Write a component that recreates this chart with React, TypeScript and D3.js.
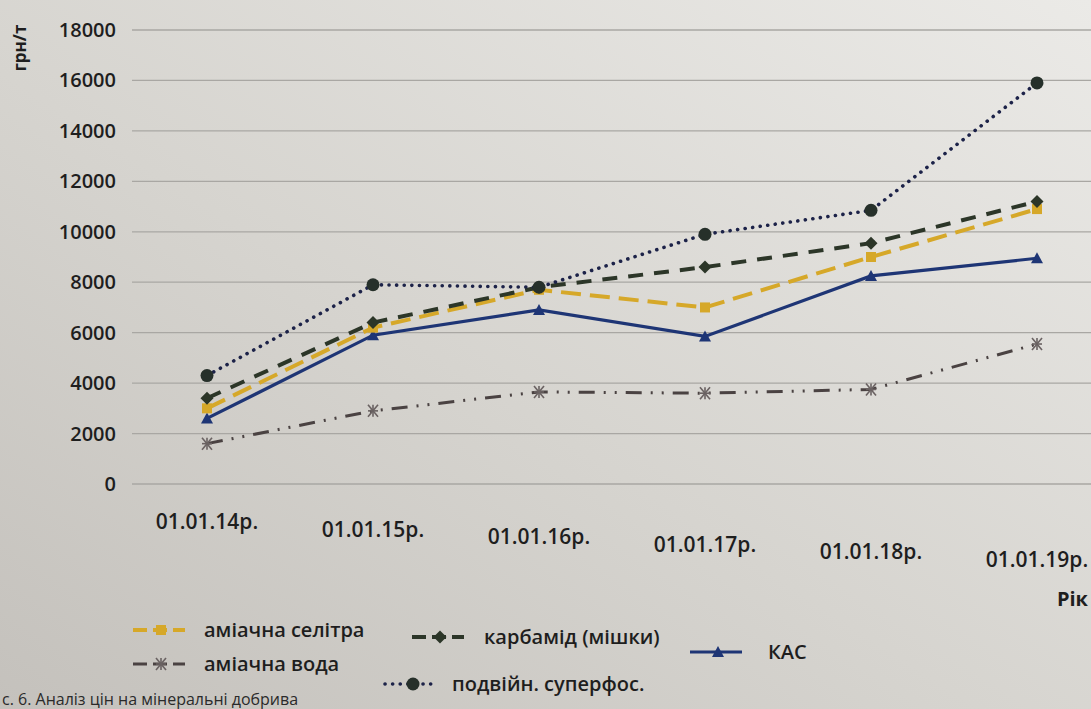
import React from "react";
import * as d3 from "d3";

const categories = ["01.01.14р.", "01.01.15р.", "01.01.16р.", "01.01.17р.", "01.01.18р.", "01.01.19р."];
const selitra = [3000, 6200, 7700, 7000, 9000, 10900];
const karbamid = [3400, 6400, 7800, 8600, 9550, 11200];
const kas = [2600, 5900, 6900, 5850, 8250, 8950];
const voda = [1600, 2900, 3650, 3600, 3750, 5550];
const superfos = [4300, 7900, 7800, 9900, 10850, 15900];
const yTicks = [0, 2000, 4000, 6000, 8000, 10000, 12000, 14000, 16000, 18000];

type Series = {
  name: string;
  values: number[];
  color: string;
  markerColor: string;
  dash: string;
  width: number;
  cap: string;
  marker: string;
};

const series: Series[] = [
  { name: "аміачна вода", values: voda, color: "#4a4242", markerColor: "#6a6262", dash: "16 9 2 9 2 9", width: 3, cap: "butt", marker: "star" },
  { name: "КАС", values: kas, color: "#1e3575", markerColor: "#1e3575", dash: "", width: 3.2, cap: "butt", marker: "triangle" },
  { name: "аміачна селітра", values: selitra, color: "#d6a829", markerColor: "#d6a829", dash: "20 9", width: 4, cap: "butt", marker: "square" },
  { name: "карбамід (мішки)", values: karbamid, color: "#2c3628", markerColor: "#2c3628", dash: "15 11", width: 4, cap: "butt", marker: "diamond" },
  { name: "подвійн. суперфос.", values: superfos, color: "#1c2248", markerColor: "#26302a", dash: "0.1 7.5", width: 3.6, cap: "round", marker: "circle" },
];

const FONT = "'Open Sans', 'Noto Sans', sans-serif";

function Marker({ type, x, y, color }: { type: string; x: number; y: number; color: string }) {
  if (type === "square") return <rect x={x - 5} y={y - 5} width={10} height={10} fill={color} />;
  if (type === "diamond") return <path d={`M${x},${y - 6.5}L${x + 6.5},${y}L${x},${y + 6.5}L${x - 6.5},${y}Z`} fill={color} />;
  if (type === "triangle") return <path d={`M${x},${y - 6}L${x + 6},${y + 5}L${x - 6},${y + 5}Z`} fill={color} />;
  if (type === "circle") return <circle cx={x} cy={y} r={6.5} fill={color} />;
  return (
    <g stroke={color} strokeWidth={1.6}>
      <line x1={x - 5} y1={y - 6} x2={x + 5} y2={y + 6} />
      <line x1={x + 5} y1={y - 6} x2={x - 5} y2={y + 6} />
      <line x1={x - 5} y1={y} x2={x + 5} y2={y} />
      <line x1={x} y1={y - 6} x2={x} y2={y + 6} />
    </g>
  );
}

export default function App() {
  const W = 1091;
  const H = 709;
  const x = d3.scalePoint<string>().domain(categories).range([207, 1037]);
  const y = d3.scaleLinear().domain([0, 18000]).range([484, 30]);
  const line = d3
    .line<number>()
    .x((_, i) => x(categories[i]) as number)
    .y((d) => y(d));

  const legend = [
    { s: series[2], lx: 133, ly: 630, tx: 204 },
    { s: series[3], lx: 412, ly: 637, tx: 484 },
    { s: series[1], lx: 690, ly: 652, tx: 768 },
    { s: series[0], lx: 133, ly: 664, tx: 204 },
    { s: series[4], lx: 385, ly: 684, tx: 452 },
  ];

  return (
    <svg width={W} height={H} style={{ position: "absolute", left: 0, top: 0, display: "block" }}>
      <defs>
        <linearGradient id="paper" x1="0" y1="1" x2="1" y2="0">
          <stop offset="0" stopColor="#c4c1bc" />
          <stop offset="0.45" stopColor="#d6d4cf" />
          <stop offset="1" stopColor="#ebeae7" />
        </linearGradient>
      </defs>
      <rect x={0} y={0} width={W} height={H} fill="url(#paper)" />

      {yTicks.map((t) => (
        <line key={t} x1={132} x2={W} y1={y(t)} y2={y(t)} stroke="#a9a7a3" strokeWidth={1.3} />
      ))}

      {yTicks.map((t) => (
        <text key={"l" + t} x={116} y={y(t)} dy="0.35em" textAnchor="end" fontFamily={FONT} fontWeight={600} fontSize={20} fill="#1e1e1e">
          {t}
        </text>
      ))}
      <text transform="translate(26,48) rotate(-90)" textAnchor="middle" fontFamily={FONT} fontWeight={700} fontSize={17} fill="#1e1e1e">
        грн/т
      </text>

      {categories.map((c, i) => (
        <text key={c} x={x(c) as number} y={529 + i * 7.5} textAnchor="middle" fontFamily={FONT} fontWeight={600} fontSize={21} fill="#1e1e1e">
          {c}
        </text>
      ))}
      <text x={1088} y={606} textAnchor="end" fontFamily={FONT} fontWeight={700} fontSize={20} fill="#1e1e1e">
        Рік
      </text>

      {series.map((s) => (
        <g key={s.name}>
          <path d={line(s.values) || ""} fill="none" stroke={s.color} strokeWidth={s.width} strokeDasharray={s.dash} strokeLinecap={s.cap as any} />
          {s.values.map((v, i) => (
            <Marker key={i} type={s.marker} x={x(categories[i]) as number} y={y(v)} color={s.markerColor} />
          ))}
        </g>
      ))}

      {legend.map(({ s, lx, ly, tx }) => (
        <g key={"lg" + s.name}>
          <line x1={lx} x2={lx + 52} y1={ly} y2={ly} stroke={s.color} strokeWidth={s.width} strokeDasharray={s.dash ? (s.marker === "circle" ? s.dash : "14 6") : ""} strokeLinecap={s.cap as any} />
          <Marker type={s.marker} x={lx + 28} y={ly} color={s.markerColor} />
          <text x={tx} y={ly} dy="0.35em" fontFamily={FONT} fontWeight={600} fontSize={20} fill="#1e1e1e">
            {s.name}
          </text>
        </g>
      ))}

      <text x={2} y={705} fontFamily={FONT} fontWeight={400} fontSize={16} fill="#2a2a2a">
        с. 6. Аналіз цін на мінеральні добрива
      </text>
    </svg>
  );
}
